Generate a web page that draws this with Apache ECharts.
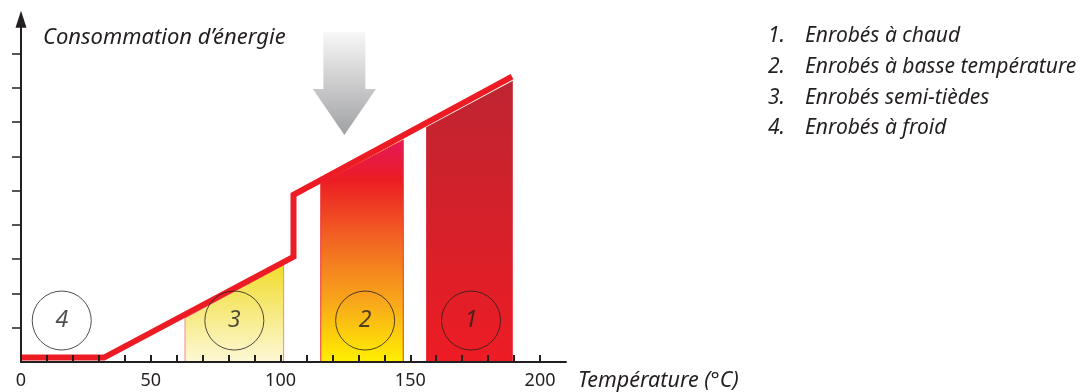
<!DOCTYPE html>
<html>
<head>
<meta charset="utf-8">
<script src="https://cdn.jsdelivr.net/npm/echarts@6.0.0/dist/echarts.min.js"></script>
<style>
  html, body { margin: 0; padding: 0; background: #fff; }
  #main { width: 1082px; height: 392px; }
</style>
</head>
<body>
<div id="main"></div>
<script>
// axis ticks / labels
var xTickValues = [10, 20, 30, 40, 50, 60, 70, 80, 90, 100, 110, 120, 130, 140, 150, 160, 170, 180, 190, 200];
var xLabelValues = [0, 50, 100, 150, 200];
var yTickValues = [1, 2, 3, 4, 5, 6, 7, 8, 9];

// consommation d'énergie (courbe rouge), [température, énergie]
var energyLine = [[0, 0.13], [32, 0.13], [105, 3.07], [105, 4.88], [189.2, 8.33]];

// zones : 3 = semi-tièdes, 2 = basse température, 1 = à chaud
var zoneSemiTiedes = [[63.2, 0], [63.2, 1.28], [101.2, 2.84], [101.2, 0]];
var zoneBasseTemp = [[115.5, 0], [115.5, 5.22], [147.3, 6.48], [147.3, 0]];
var zoneChaud = [[156.1, 0], [156.1, 6.85], [189.5, 8.21], [189.5, 0]];

// cercles numérotés
var circleLabels = ['4', '3', '2', '1'];
var circleX = [15.7, 82.2, 132.6, 173.4];
var circleY = [1.21, 1.21, 1.21, 1.21];

// flèche grise
var arrowPoint = [124.6, 8.13];

var legendNumbers = ['1.', '2.', '3.', '4.'];
var legendNames = ['Enrobés à chaud', 'Enrobés à basse température', 'Enrobés semi-tièdes', 'Enrobés à froid'];

var FONT = 'Noto Sans';
var INK = '#231f20';

var legendText = legendNumbers.map(function (n, i) {
    return '{n|' + n + '}{t|' + legendNames[i] + '}';
}).join('\n');

var circleData = circleLabels.map(function (l, i) {
    return { name: l, value: [circleX[i], circleY[i]] };
});

var myChart = echarts.init(document.getElementById('main'), null, { renderer: 'canvas' });

var option = {
    animation: false,
    title: [
        {
            text: 'Consommation d’énergie',
            left: 43,
            top: 27,
            padding: 0,
            textStyle: { fontFamily: FONT, fontStyle: 'italic', fontWeight: 'normal', fontSize: 22, color: INK }
        },
        {
            text: legendText,
            left: 768,
            top: 21,
            padding: 0,
            textStyle: {
                fontFamily: FONT, fontStyle: 'italic', fontWeight: 'normal', fontSize: 21, color: INK,
                lineHeight: 30.7,
                rich: {
                    n: { fontFamily: FONT, fontStyle: 'italic', fontSize: 21, color: INK, width: 37, lineHeight: 30.7 },
                    t: { fontFamily: FONT, fontStyle: 'italic', fontSize: 21, color: INK, lineHeight: 30.7 }
                }
            }
        }
    ],
    grid: { left: 21, top: 19.3, width: 545, height: 343 },
    xAxis: {
        type: 'value',
        min: 0,
        max: 210,
        z: 10,
        name: 'Température (°C)',
        nameLocation: 'end',
        nameGap: 12,
        nameTextStyle: {
            fontFamily: FONT, fontStyle: 'italic', fontSize: 21.5, color: INK,
            verticalAlign: 'top', padding: [8, 0, 0, 0]
        },
        splitLine: { show: false },
        axisLine: { lineStyle: { color: INK, width: 2 } },
        axisTick: { show: true, inside: true, length: 7, customValues: xTickValues, lineStyle: { color: INK, width: 2 } },
        axisLabel: { customValues: xLabelValues, margin: 10, fontFamily: FONT, fontSize: 18, color: INK }
    },
    yAxis: {
        type: 'value',
        min: 0,
        max: 10,
        z: 10,
        splitLine: { show: false },
        axisLine: {
            show: true,
            symbol: ['none', 'triangle'],
            symbolSize: [11, 17],
            lineStyle: { color: INK, width: 2 }
        },
        axisTick: { show: true, length: 9, customValues: yTickValues, lineStyle: { color: INK, width: 1.5 } },
        axisLabel: { show: false }
    },
    series: [
        {
            name: 'semi-tièdes',
            type: 'line',
            data: zoneSemiTiedes,
            symbol: 'none',
            z: 2,
            lineStyle: { color: '#f08a8a', width: 1 },
            areaStyle: {
                opacity: 1,
                color: new echarts.graphic.LinearGradient(0, 0, 0, 1, [
                    { offset: 0, color: '#f1dc2c' },
                    { offset: 1, color: '#fdf8d6' }
                ])
            }
        },
        {
            name: 'basse température',
            type: 'line',
            data: zoneBasseTemp,
            symbol: 'none',
            z: 2,
            lineStyle: { color: '#ef3030', width: 1 },
            areaStyle: {
                opacity: 1,
                color: new echarts.graphic.LinearGradient(0, 0, 0, 1, [
                    { offset: 0, color: '#e4185a' },
                    { offset: 0.18, color: '#ec1c24' },
                    { offset: 0.45, color: '#f26522' },
                    { offset: 0.72, color: '#f8a51b' },
                    { offset: 1, color: '#fff000' }
                ])
            }
        },
        {
            name: 'à chaud',
            type: 'line',
            data: zoneChaud,
            symbol: 'none',
            z: 2,
            lineStyle: { width: 0 },
            areaStyle: {
                opacity: 1,
                color: new echarts.graphic.LinearGradient(0, 0, 0, 1, [
                    { offset: 0, color: '#be2531' },
                    { offset: 1, color: '#ed1c24' }
                ])
            }
        },
        {
            name: 'énergie',
            type: 'line',
            data: energyLine,
            symbol: 'none',
            z: 3,
            lineStyle: { color: '#ed1c24', width: 6, join: 'miter', cap: 'butt' }
        },
        {
            name: 'cercles',
            type: 'scatter',
            data: circleData,
            symbol: 'circle',
            symbolSize: 59,
            z: 4,
            itemStyle: { color: 'rgba(0,0,0,0)', borderColor: INK, borderWidth: 1 },
            label: {
                show: true,
                position: 'inside',
                formatter: '{b}',
                fontFamily: FONT, fontStyle: 'italic', fontSize: 23, color: INK
            }
        },
        {
            name: 'flèche',
            type: 'scatter',
            data: [arrowPoint],
            symbol: 'path://M10.5,0 L52.5,0 L52.5,57 L63,57 L31.5,103 L0,57 L10.5,57 Z',
            symbolSize: [63, 103],
            z: 4,
            itemStyle: {
                color: new echarts.graphic.LinearGradient(0, 0, 0, 1, [
                    { offset: 0, color: '#f6f6f6' },
                    { offset: 1, color: '#88898c' }
                ])
            }
        }
    ]
};
myChart.setOption(option);
</script>
</body>
</html>
